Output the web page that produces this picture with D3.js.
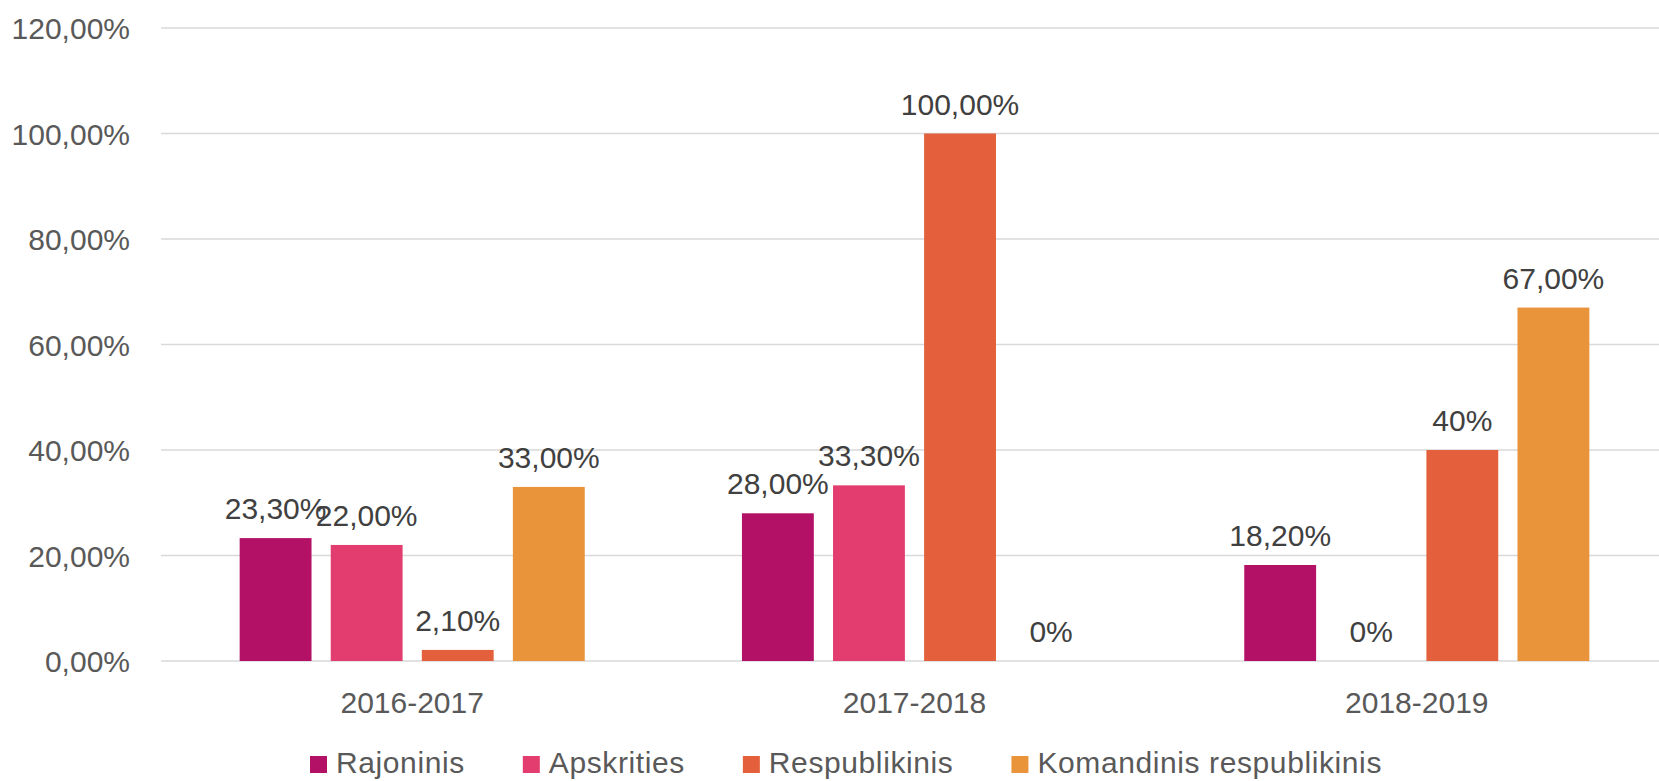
<!DOCTYPE html>
<html>
<head>
<meta charset="utf-8">
<script src="https://cdn.jsdelivr.net/npm/d3@7"></script>
<style>
	body { margin: 0; background: #fff; }
	text { font-family: 'Liberation Sans', Arial, sans-serif; }
</style>
</head>
<body>
<svg id="chart" width="1659" height="781"></svg>
<script>
// chart data
const seasons = ['2016-2017', '2017-2018', '2018-2019'];
const series = ['Rajoninis', 'Apskrities', 'Respublikinis', 'Komandinis respublikinis'];
const rajoninis = [23.3, 28, 18.2];
const apskrities = [22, 33.3, 0];
const respublikinis = [2.1, 100, 40];
const komandinis = [33, 0, 67];
const rajoninisLabels = ['23,30%', '28,00%', '18,20%'];
const apskritiesLabels = ['22,00%', '33,30%', '0%'];
const respublikinisLabels = ['2,10%', '100,00%', '40%'];
const komandinisLabels = ['33,00%', '0%', '67,00%'];
const yTicks = [0, 20, 40, 60, 80, 100, 120];
const colors = ['#b31166', '#e33d6f', '#e45f3c', '#e9943a'];

const values = [rajoninis, apskrities, respublikinis, komandinis];
const labels = [rajoninisLabels, apskritiesLabels, respublikinisLabels, komandinisLabels];

// flatten into one row per bar
const rows = [];
seasons.forEach((s, i) => {
	series.forEach((name, j) => {
		rows.push({ season: s, series: name, value: values[j][i], label: labels[j][i], color: colors[j] });
	});
});

// plot area runs a little past the right edge of the picture, like the original
const plot = { left: 161, right: 1668, top: 28, bottom: 661 };

const svg = d3.select('#chart');

const y = d3.scaleLinear().domain([0, 120]).range([plot.bottom, plot.top]);

const x0 = d3
	.scaleBand()
	.domain(seasons)
	.range([plot.left, plot.right])
	.paddingInner(0.313)
	.paddingOuter(0.1566);

const x1 = d3.scaleBand().domain(series).range([0, x0.bandwidth()]).paddingInner(0.211);

// gridlines + y tick labels
const yAxis = svg.append('g');
yAxis
	.selectAll('line')
	.data(yTicks)
	.join('line')
	.attr('x1', plot.left)
	.attr('x2', plot.right)
	.attr('y1', (d) => y(d))
	.attr('y2', (d) => y(d))
	.attr('stroke', '#d9d9d9')
	.attr('stroke-width', 1.5);

yAxis
	.selectAll('text')
	.data(yTicks)
	.join('text')
	.attr('x', 130)
	.attr('y', (d) => y(d) + 11)
	.attr('text-anchor', 'end')
	.attr('font-size', 30)
	.attr('fill', '#595959')
	.text((d) => d3.format('.2f')(d).replace('.', ',') + '%');

// bars (zero values draw nothing)
svg.append('g')
	.selectAll('rect')
	.data(rows.filter((d) => d.value > 0))
	.join('rect')
	.attr('x', (d) => x0(d.season) + x1(d.series))
	.attr('width', x1.bandwidth())
	.attr('y', (d) => y(d.value))
	.attr('height', (d) => y(0) - y(d.value))
	.attr('fill', (d) => d.color);

// value labels above bars
svg.append('g')
	.selectAll('text')
	.data(rows)
	.join('text')
	.attr('x', (d) => x0(d.season) + x1(d.series) + x1.bandwidth() / 2)
	.attr('y', (d) => y(d.value) - 19)
	.attr('text-anchor', 'middle')
	.attr('font-size', 30)
	.attr('fill', '#404040')
	.text((d) => d.label);

// category labels
svg.append('g')
	.selectAll('text')
	.data(seasons)
	.join('text')
	.attr('x', (d) => x0(d) + x0.bandwidth() / 2)
	.attr('y', plot.bottom + 52)
	.attr('text-anchor', 'middle')
	.attr('font-size', 30)
	.attr('fill', '#595959')
	.text((d) => d);

// legend, laid out left to right
const legend = svg.append('g').attr('transform', 'translate(310,0)');
const items = legend.selectAll('g').data(series).join('g');

items
	.append('rect')
	.attr('width', 17)
	.attr('height', 17)
	.attr('y', 756)
	.attr('fill', (d, i) => colors[i]);

items
	.append('text')
	.attr('x', 26)
	.attr('y', 773)
	.attr('font-size', 30)
	.attr('letter-spacing', 0.6)
	.attr('fill', '#595959')
	.text((d) => d);

let cursor = 0;
items.each(function () {
	const g = d3.select(this);
	g.attr('transform', `translate(${cursor},0)`);
	cursor += 26 + g.select('text').node().getComputedTextLength() + 58;
});
</script>
</body>
</html>
